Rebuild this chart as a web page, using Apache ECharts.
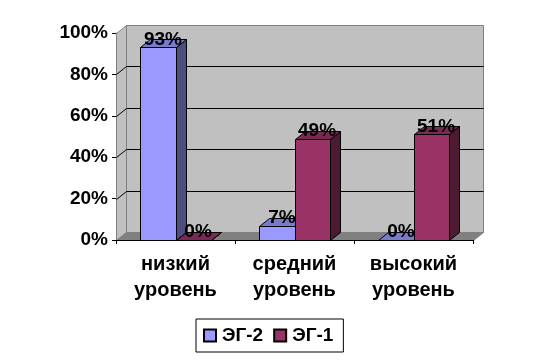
<!DOCTYPE html>
<html>
<head>
<meta charset="utf-8">
<style>
  html, body { margin: 0; padding: 0; background: #fff; }
  #chart { width: 540px; height: 360px; }
</style>
<script src="https://cdn.jsdelivr.net/npm/echarts@6/dist/echarts.min.js"></script>
</head>
<body>
<div id="chart"></div>
<script>
const categories = ["низкий\nуровень", "средний\nуровень", "высокий\nуровень"];
const seriesNames = ["ЭГ-2", "ЭГ-1"];
const eg2Values = [93, 7, 0];
const eg1Values = [0, 49, 51];
const yTicks = [0, 20, 40, 60, 80, 100];

// 3D depth of the fake Excel look
const DX = 10;
const DY = -8;
const BAR_SHARE = 0.295;
const FONT = '"Liberation Sans", Arial, sans-serif';

const chartInstance = echarts.init(document.getElementById("chart"));

// snap to the pixel grid so 1px outlines stay crisp
const snap = (p) => [Math.round(p[0]) + 0.5, Math.round(p[1]) + 0.5];

const poly = (points, fill, stroke) => ({
  type: "polygon",
  shape: { points: points.map(snap) },
  style: { fill, stroke: stroke || "#000", lineWidth: 1 },
});

const renderWalls = (params, api) => {
  const cs = params.coordSys;
  const x0 = cs.x;
  const x1 = cs.x + cs.width;
  const yTop = cs.y;
  const yBot = cs.y + cs.height;
  const children = [
    poly([[x0, yBot], [x0 + DX, yBot + DY], [x0 + DX, yTop + DY], [x0, yTop]], "#C0C0C0", "#808080"),
    poly([[x0 + DX, yBot + DY], [x1 + DX, yBot + DY], [x1 + DX, yTop + DY], [x0 + DX, yTop + DY]], "#C0C0C0", "#808080"),
    poly([[x0, yBot], [x1, yBot], [x1 + DX, yBot + DY], [x0 + DX, yBot + DY]], "#808080", "#808080"),
  ];
  yTicks.slice(1, -1).forEach((t) => {
    const y = api.coord([0, t])[1];
    children.push({
      type: "polyline",
      shape: { points: [[x0, y], [x0 + DX, y + DY], [x1 + DX, y + DY]].map(snap) },
      style: { fill: "none", stroke: "#000", lineWidth: 1 },
    });
  });
  return { type: "group", children };
};

const makeBarRenderer = (offset, front, side, top) => (params, api) => {
  const idx = api.value(0);
  const val = api.value(1);
  const w = api.size([1, 0])[0] * BAR_SHARE;
  const [cx, yVal] = api.coord([idx, val]);
  const yBase = api.coord([idx, 0])[1];
  const left = cx + offset * w;
  const right = left + w;
  return {
    type: "group",
    children: [
      poly([[left, yBase], [right, yBase], [right, yVal], [left, yVal]], front),
      poly([[right, yBase], [right + DX, yBase + DY], [right + DX, yVal + DY], [right, yVal]], side),
      poly([[left, yVal], [right, yVal], [right + DX, yVal + DY], [left + DX, yVal + DY]], top),
    ],
  };
};

const makeLabelRenderer = (offset) => (params, api) => {
  const idx = api.value(0);
  const val = api.value(1);
  const w = api.size([1, 0])[0] * BAR_SHARE;
  const [cx, yVal] = api.coord([idx, val]);
  return {
    type: "text",
    style: {
      text: `${val}%`,
      x: cx + offset * w + w / 2 + 5,
      y: yVal - 8,
      align: "center",
      verticalAlign: "middle",
      font: `bold 19px ${FONT}`,
      fill: "#000",
    },
  };
};

const option = {
  backgroundColor: "#fff",
  animation: false,
  grid: { left: 116, right: 67, top: 33, bottom: 120 },
  legend: {
    left: 196,
    top: 319,
    data: seriesNames,
    icon: "rect",
    itemWidth: 12,
    itemHeight: 12,
    itemGap: 10,
    padding: [7, 10, 7, 7],
    borderColor: "#000",
    borderWidth: 1,
    backgroundColor: "#fff",
    selectedMode: false,
    textStyle: { fontFamily: FONT, fontWeight: "bold", fontSize: 19, color: "#000", padding: [0, 0, 0, 1] },
  },
  xAxis: {
    type: "category",
    data: categories,
    axisLine: { show: true, lineStyle: { color: "#000", width: 1 } },
    axisTick: { show: true, length: 4, alignWithLabel: false, lineStyle: { color: "#000" } },
    axisLabel: {
      interval: 0,
      margin: 11,
      lineHeight: 26,
      fontFamily: FONT,
      fontWeight: "bold",
      fontSize: 20,
      color: "#000",
    },
    splitLine: { show: false },
    z: 5,
  },
  yAxis: {
    type: "value",
    min: 0,
    max: 100,
    interval: 20,
    axisLine: { show: true, lineStyle: { color: "#808080", width: 1 } },
    axisTick: { show: true, length: 4, lineStyle: { color: "#000" } },
    axisLabel: {
      formatter: "{value}%",
      margin: 8,
      fontFamily: FONT,
      fontWeight: "bold",
      fontSize: 19,
      color: "#000",
    },
    splitLine: { show: false },
  },
  series: [
    { type: "custom", name: "walls", data: [[0, 0]], renderItem: renderWalls, clip: false, silent: true, z: 1 },
    {
      type: "custom",
      name: seriesNames[0],
      data: eg2Values.map((v, i) => [i, v]),
      renderItem: makeBarRenderer(-1, "#9999FF", "#4D4D80", "#7A7ACC"),
      itemStyle: { color: "#9999FF", borderColor: "#000", borderWidth: 1 },
      clip: false,
      z: 2,
    },
    {
      type: "custom",
      name: seriesNames[1],
      data: eg1Values.map((v, i) => [i, v]),
      renderItem: makeBarRenderer(0, "#993366", "#4D1A33", "#7A2952"),
      itemStyle: { color: "#993366", borderColor: "#000", borderWidth: 1 },
      clip: false,
      z: 3,
    },
    {
      type: "custom",
      name: "labels-2",
      data: eg2Values.map((v, i) => [i, v]),
      renderItem: makeLabelRenderer(-1),
      clip: false,
      silent: true,
      z: 4,
    },
    {
      type: "custom",
      name: "labels-1",
      data: eg1Values.map((v, i) => [i, v]),
      renderItem: makeLabelRenderer(0),
      clip: false,
      silent: true,
      z: 4,
    },
  ],
};

chartInstance.setOption(option);
</script>
</body>
</html>
